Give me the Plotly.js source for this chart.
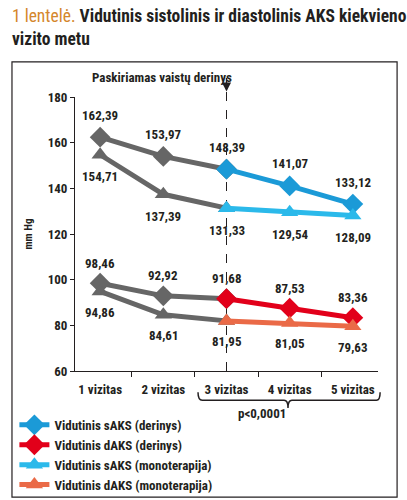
<!DOCTYPE html>
<html>
<head>
<meta charset="utf-8">
<script src="https://cdn.plot.ly/plotly-3.0.1.min.js"></script>
<style>body{margin:0;background:#fff}</style>
</head>
<body>
<div id="myDiv" style="width:407px;height:500px"></div>
<script>
var visits = ['1 vizitas', '2 vizitas', '3 vizitas', '4 vizitas', '5 vizitas'];
var sysComb = [162.39, 153.97, 148.39, 141.07, 133.12];
var diaComb = [98.46, 92.92, 91.68, 87.53, 83.36];
var sysMono = [154.71, 137.39, 131.33, 129.54, 128.09];
var diaMono = [94.86, 84.61, 81.95, 81.05, 79.63];
var yTicks = [60, 80, 100, 120, 140, 160, 180];

var FONT = '"Roboto Condensed", "Roboto", sans-serif';
var INK = '#231f20';
var GRAY = '#666666';

// series: values, colour, symbol, legend name, label offset
var series = [
 {y: sysComb, color: '#1b9ad7', symbol: 'diamond', name: 'Vidutinis sAKS (derinys)', shift: 22},
 {y: diaComb, color: '#e2001a', symbol: 'diamond', name: 'Vidutinis dAKS (derinys)', shift: 20},
 {y: sysMono, color: '#2bb9ea', symbol: 'triangle-up', name: 'Vidutinis sAKS (monoterapija)', shift: -22},
 {y: diaMono, color: '#ea6a47', symbol: 'triangle-up', name: 'Vidutinis dAKS (monoterapija)', shift: -21}
];

function bold(size) {
 return {family: FONT, size: size, color: INK, weight: 'bold'};
}

var data = [];
// gray part, visits 1-3
series.forEach(function(s) {
 data.push({
  type: 'scatter', mode: 'lines+markers',
  x: visits.slice(0, 3), y: s.y.slice(0, 3),
  line: {color: GRAY, width: 5},
  marker: {color: GRAY, symbol: s.symbol, size: s.symbol == 'diamond' ? 16 : 15},
  showlegend: false, hoverinfo: 'skip'
 });
});
// coloured part, visits 3-5
series.forEach(function(s) {
 data.push({
  type: 'scatter', mode: 'lines+markers',
  x: visits.slice(2), y: s.y.slice(2),
  name: s.name,
  line: {color: s.color, width: 5},
  marker: {color: s.color, symbol: s.symbol, size: s.symbol == 'diamond' ? 16 : 15}
 });
});

var annotations = [];
series.forEach(function(s) {
 s.y.forEach(function(v, i) {
  annotations.push({
   x: visits[i], y: v, xref: 'x', yref: 'y',
   text: v.toFixed(2).replace('.', ','),
   showarrow: false, yshift: s.shift,
   font: bold(13)
  });
 });
});
// chart title
annotations.push({
 x: -0.214, xref: 'paper', y: 1.34, yref: 'paper',
 xanchor: 'left', yanchor: 'top', align: 'left', showarrow: false,
 text: '<span style="color:#d4862b;font-weight:normal">1 lentelė.</span> Vidutinis sistolinis ir diastolinis AKS kiekvieno<br>vizito metu',
 font: bold(17.5)
});
annotations.push({
 x: 2, xref: 'x', y: 1.106, yref: 'paper',
 text: 'Paskiriamas vaistų derinys', showarrow: false,
 xanchor: 'right', xshift: 7,
 font: bold(13)
});
annotations.push({
 x: 2, xref: 'x', y: 1.02, yref: 'paper', text: '',
 showarrow: true, arrowhead: 2, arrowsize: 1.3, arrowwidth: 1.4, arrowcolor: INK,
 ax: 0, ay: -15
});
annotations.push({
 x: 0.703, xref: 'paper', y: -0.19, yref: 'paper',
 text: 'p<0,0001', showarrow: false,
 font: bold(13)
});

var shapes = [
 // frame
 {type: 'rect', xref: 'paper', yref: 'paper', x0: -0.208, x1: 1.063, y0: -0.46, y1: 1.128,
  line: {color: INK, width: 1.2}},
 // dashed line at start of combination therapy
 {type: 'line', xref: 'x', yref: 'paper', x0: 2, x1: 2, y0: 0, y1: 1.02,
  line: {color: INK, width: 1, dash: 'dash'}, layer: 'below'},
 // brace over visits 3-5
 {type: 'path', xref: 'paper', yref: 'paper',
  path: 'M0.406,-0.078 Q0.406,-0.107 0.42,-0.107 L0.69,-0.107 Q0.703,-0.107 0.703,-0.135 Q0.703,-0.107 0.716,-0.107 L0.995,-0.107 Q1.007,-0.107 1.007,-0.078',
  line: {color: INK, width: 1.5}}
];

var layout = {
 width: 407, height: 500,
 margin: {l: 75, r: 29, t: 97, b: 129, autoexpand: false},
 paper_bgcolor: '#fff', plot_bgcolor: '#fff',
 xaxis: {
  type: 'category', tickson: 'boundaries', ticks: 'outside', ticklen: 5,
  tickcolor: INK, showline: true, linecolor: INK, linewidth: 1,
  showgrid: false, fixedrange: true, tickangle: 0, ticklabelstandoff: 6,
  tickfont: bold(13)
 },
 yaxis: {
  range: [60, 180], tickvals: yTicks, ticks: 'outside', ticklen: 4,
  tickcolor: INK, showline: true, linecolor: INK, linewidth: 1,
  showgrid: false, zeroline: false, fixedrange: true,
  tickfont: bold(13),
  title: {text: 'mm Hg', standoff: 12, font: bold(11)}
 },
 showlegend: true,
 legend: {
  x: -0.2, xanchor: 'left', y: -0.142, yanchor: 'top',
  bgcolor: 'rgba(0,0,0,0)', tracegroupgap: 0, itemwidth: 30,
  font: bold(13)
 },
 annotations: annotations,
 shapes: shapes
};

Plotly.newPlot('myDiv', data, layout, {displayModeBar: false, staticPlot: true});
</script>
</body>
</html>
